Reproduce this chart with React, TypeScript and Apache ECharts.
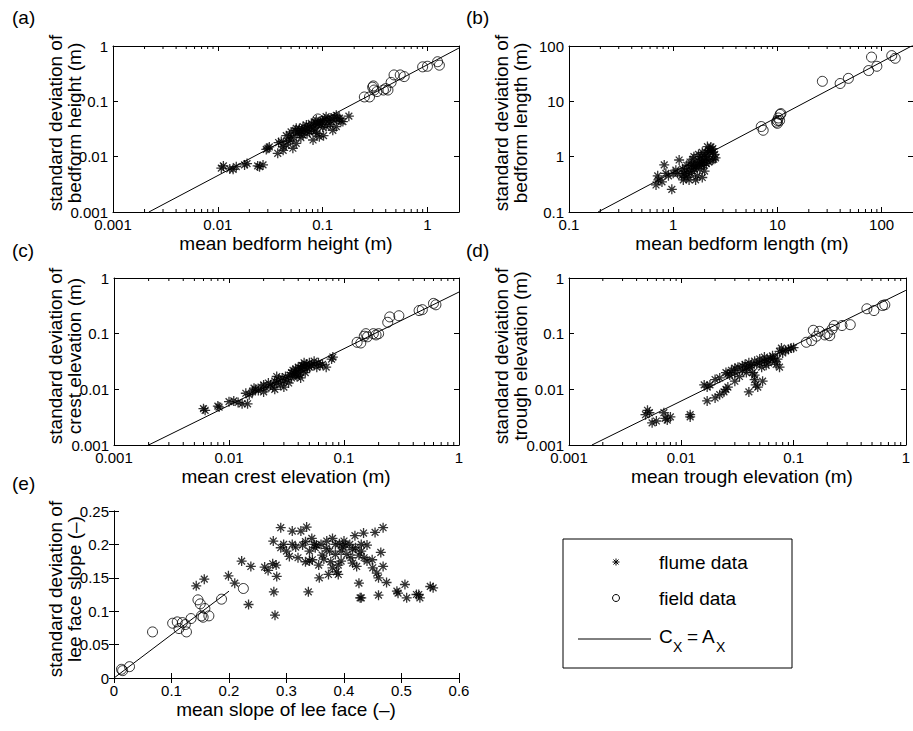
import React, { useEffect, useRef } from "react";
import * as echarts from "echarts";

const FONT = "'Liberation Sans', Arial, Helvetica, sans-serif";

// ---------- data ----------
const flumeA: number[][] = [
  [0.0108, 0.0062], [0.0113, 0.0068], [0.013, 0.006], [0.014, 0.0059], [0.015, 0.0066], [0.018, 0.0071], [0.019, 0.0075],
  [0.024, 0.0068], [0.025, 0.0066], [0.027, 0.0071], [0.029, 0.0135], [0.03, 0.0142], [0.031, 0.015], [0.0373, 0.0115],
  [0.038, 0.018], [0.0403, 0.0188], [0.0418, 0.0152], [0.042, 0.013], [0.045, 0.0163], [0.045, 0.024], [0.0484, 0.0246],
  [0.049, 0.0199], [0.05, 0.028], [0.052, 0.0142], [0.055, 0.03], [0.056, 0.0325], [0.056, 0.0174], [0.06, 0.0265],
  [0.06, 0.032], [0.062, 0.022], [0.065, 0.0246], [0.065, 0.035], [0.068, 0.03], [0.07, 0.0373], [0.072, 0.033],
  [0.075, 0.028], [0.078, 0.03], [0.078, 0.04], [0.081, 0.02], [0.083, 0.036], [0.085, 0.042], [0.087, 0.046],
  [0.088, 0.026], [0.09, 0.038], [0.093, 0.023], [0.093, 0.04], [0.096, 0.044], [0.1, 0.045], [0.1, 0.034],
  [0.102, 0.024], [0.105, 0.048], [0.108, 0.0528], [0.108, 0.035], [0.112, 0.042], [0.116, 0.046], [0.12, 0.05],
  [0.125, 0.03], [0.128, 0.045], [0.135, 0.056], [0.135, 0.035], [0.14, 0.048], [0.145, 0.0495], [0.15, 0.044],
  [0.156, 0.043], [0.178, 0.054], [0.058, 0.027], [0.067, 0.031], [0.074, 0.036], [0.082, 0.033], [0.097, 0.038],
  [0.053, 0.022], [0.047, 0.019], [0.063, 0.029], [0.071, 0.026], [0.086, 0.029], [0.118, 0.038], [0.13, 0.052],
];
const fieldA: number[][] = [
  [0.09, 0.048], [0.25, 0.12], [0.28, 0.12], [0.3, 0.18], [0.305, 0.19], [0.31, 0.16], [0.33, 0.15], [0.38, 0.16],
  [0.4, 0.17], [0.42, 0.16], [0.45, 0.22], [0.48, 0.3], [0.55, 0.3], [0.6, 0.28], [0.9, 0.42], [1.0, 0.43],
  [1.25, 0.52], [1.3, 0.45],
];
const fitA: number[][] = [[0.0022, 0.001], [2, 0.92]];

const flumeB: number[][] = [
  [0.684, 0.308], [0.71, 0.45], [0.72, 0.38], [0.78, 0.35], [0.82, 0.71], [0.85, 0.5], [0.9, 0.45], [0.97, 0.257],
  [1.0, 0.5], [1.06, 0.57], [1.1, 0.5], [1.14, 0.87], [1.2, 0.45], [1.23, 0.6], [1.25, 0.38], [1.3, 0.55],
  [1.33, 0.42], [1.35, 0.7], [1.4, 0.6], [1.42, 0.38], [1.45, 0.8], [1.5, 0.7], [1.5, 0.55], [1.55, 0.9],
  [1.58, 1.0], [1.6, 0.6], [1.64, 0.66], [1.64, 0.38], [1.7, 0.75], [1.7, 0.45], [1.75, 1.1], [1.8, 0.9],
  [1.8, 0.6], [1.85, 1.0], [1.9, 0.8], [1.9, 1.2], [1.9, 0.42], [1.95, 0.7], [2.0, 1.0], [2.0, 0.55],
  [2.05, 1.2], [2.1, 0.9], [2.13, 1.52], [2.2, 1.3], [2.2, 0.8], [2.3, 1.3], [2.3, 1.5], [2.37, 0.87],
  [2.4, 1.2], [2.45, 0.9], [2.5, 1.1], [2.55, 0.95], [1.28, 0.5], [1.38, 0.48], [1.48, 0.5], [1.58, 0.65],
  [1.68, 0.7], [1.78, 0.8], [1.88, 0.7], [1.98, 0.85], [2.08, 0.75], [2.15, 1.0], [2.25, 1.25], [2.4, 1.4],
];
const fieldB: number[][] = [
  [7.0, 3.5], [7.3, 3.0], [9.8, 4.2], [10, 4.5], [10, 4.0], [10.2, 5.0], [10.5, 4.5], [10.6, 5.8], [10.8, 6.0],
  [27, 23], [40, 21], [48, 26], [75, 36], [80, 63], [90, 43], [125, 67], [135, 60],
];
const fitB: number[][] = [[0.19, 0.1], [200, 103]];

const flumeC: number[][] = [
  [0.006, 0.0045], [0.0062, 0.0042], [0.008, 0.005], [0.0082, 0.0048], [0.01, 0.006], [0.011, 0.0062],
  [0.012, 0.0058], [0.013, 0.0055], [0.014, 0.0085], [0.0145, 0.0055], [0.015, 0.008], [0.016, 0.009],
  [0.0165, 0.0105], [0.017, 0.01], [0.018, 0.0095], [0.019, 0.011], [0.02, 0.012], [0.02, 0.009],
  [0.021, 0.0105], [0.022, 0.013], [0.023, 0.012], [0.024, 0.011], [0.025, 0.014], [0.025, 0.01],
  [0.026, 0.013], [0.026, 0.017], [0.027, 0.015], [0.028, 0.012], [0.029, 0.016], [0.03, 0.014],
  [0.03, 0.011], [0.031, 0.017], [0.032, 0.015], [0.033, 0.013], [0.034, 0.018], [0.035, 0.02],
  [0.035, 0.016], [0.036, 0.022], [0.037, 0.019], [0.038, 0.023], [0.038, 0.018], [0.039, 0.017],
  [0.04, 0.025], [0.04, 0.021], [0.041, 0.018], [0.042, 0.024], [0.042, 0.016], [0.043, 0.027],
  [0.044, 0.022], [0.045, 0.026], [0.045, 0.03], [0.046, 0.02], [0.047, 0.028], [0.048, 0.024],
  [0.05, 0.03], [0.05, 0.025], [0.052, 0.027], [0.055, 0.032], [0.055, 0.028], [0.058, 0.025],
  [0.06, 0.03], [0.062, 0.027], [0.065, 0.028], [0.07, 0.025], [0.078, 0.035], [0.08, 0.038],
];
const fieldC: number[][] = [
  [0.13, 0.07], [0.14, 0.068], [0.15, 0.09], [0.155, 0.1], [0.16, 0.088], [0.18, 0.1], [0.19, 0.095],
  [0.2, 0.1], [0.24, 0.16], [0.25, 0.2], [0.3, 0.21], [0.45, 0.26], [0.48, 0.27], [0.6, 0.35], [0.63, 0.33],
];
const fitC: number[][] = [[0.002, 0.001], [1, 0.56]];

const flumeD: number[][] = [
  [0.0048, 0.0035], [0.005, 0.0042], [0.0052, 0.0038], [0.0055, 0.0025], [0.006, 0.0027], [0.007, 0.0038],
  [0.0072, 0.003], [0.0075, 0.0028], [0.008, 0.0032], [0.012, 0.0035], [0.012, 0.0032], [0.016, 0.012],
  [0.017, 0.011], [0.018, 0.012], [0.017, 0.0062], [0.02, 0.007], [0.022, 0.008], [0.024, 0.009],
  [0.025, 0.01], [0.026, 0.011], [0.02, 0.015], [0.022, 0.016], [0.025, 0.02], [0.026, 0.019],
  [0.027, 0.018], [0.028, 0.022], [0.03, 0.02], [0.03, 0.014], [0.03, 0.024], [0.032, 0.025],
  [0.033, 0.017], [0.035, 0.026], [0.035, 0.022], [0.037, 0.028], [0.038, 0.024], [0.038, 0.02],
  [0.04, 0.03], [0.04, 0.009], [0.041, 0.025], [0.042, 0.027], [0.043, 0.02], [0.045, 0.032],
  [0.045, 0.015], [0.045, 0.018], [0.046, 0.012], [0.047, 0.028], [0.048, 0.011], [0.05, 0.035],
  [0.05, 0.03], [0.052, 0.025], [0.053, 0.014], [0.055, 0.038], [0.055, 0.032], [0.057, 0.027],
  [0.058, 0.034], [0.06, 0.03], [0.062, 0.036], [0.065, 0.04], [0.066, 0.036], [0.068, 0.032],
  [0.07, 0.028], [0.072, 0.035], [0.075, 0.048], [0.075, 0.025], [0.078, 0.055], [0.08, 0.045],
  [0.085, 0.05], [0.09, 0.052], [0.095, 0.055], [0.1, 0.056],
];
const fieldD: number[][] = [
  [0.13, 0.07], [0.145, 0.075], [0.15, 0.115], [0.16, 0.09], [0.17, 0.11], [0.19, 0.095], [0.2, 0.1],
  [0.21, 0.092], [0.22, 0.12], [0.23, 0.14], [0.27, 0.14], [0.32, 0.145], [0.45, 0.28], [0.52, 0.26],
  [0.62, 0.32], [0.65, 0.33],
];
const fitD: number[][] = [[0.0016, 0.001], [1, 0.6]];

const flumeE: number[][] = [
  [0.143, 0.138], [0.157, 0.148], [0.199, 0.153], [0.21, 0.142], [0.222, 0.175], [0.238, 0.167], [0.234, 0.11],
  [0.28, 0.094], [0.278, 0.129], [0.262, 0.166], [0.268, 0.161], [0.276, 0.171], [0.282, 0.169], [0.283, 0.152],
  [0.277, 0.205], [0.29, 0.195], [0.29, 0.225], [0.305, 0.182], [0.31, 0.22], [0.325, 0.22], [0.335, 0.226],
  [0.338, 0.129], [0.357, 0.15], [0.373, 0.155], [0.39, 0.155], [0.426, 0.142], [0.428, 0.12], [0.46, 0.124],
  [0.419, 0.213], [0.434, 0.217], [0.454, 0.218], [0.468, 0.225], [0.44, 0.199], [0.464, 0.188], [0.449, 0.177],
  [0.468, 0.167], [0.457, 0.157], [0.474, 0.143], [0.492, 0.13], [0.506, 0.14], [0.509, 0.12], [0.526, 0.125],
  [0.532, 0.12], [0.55, 0.137], [0.555, 0.135], [0.494, 0.127], [0.344, 0.209], [0.352, 0.199], [0.369, 0.194],
  [0.38, 0.209], [0.392, 0.201], [0.403, 0.199], [0.415, 0.192], [0.426, 0.184], [0.362, 0.184], [0.345, 0.177],
  [0.356, 0.169], [0.377, 0.174], [0.39, 0.169], [0.387, 0.159], [0.415, 0.172], [0.422, 0.167], [0.333, 0.174],
  [0.328, 0.199], [0.316, 0.196], [0.333, 0.204], [0.295, 0.2], [0.3, 0.19], [0.35, 0.195], [0.36, 0.2],
  [0.37, 0.205], [0.375, 0.19], [0.385, 0.185], [0.395, 0.19], [0.4, 0.205], [0.41, 0.2], [0.405, 0.185],
  [0.42, 0.195], [0.43, 0.19], [0.435, 0.18], [0.44, 0.175], [0.395, 0.175], [0.385, 0.2], [0.365, 0.178],
  [0.34, 0.19], [0.32, 0.18], [0.348, 0.2], [0.398, 0.196], [0.412, 0.18], [0.43, 0.2], [0.45, 0.165],
  [0.46, 0.15], [0.34, 0.175], [0.38, 0.165], [0.43, 0.12], [0.53, 0.125], [0.31, 0.2],
];
const fieldE: number[][] = [
  [0.013, 0.013], [0.015, 0.011], [0.027, 0.017], [0.067, 0.069], [0.102, 0.082], [0.11, 0.084], [0.113, 0.074],
  [0.119, 0.083], [0.124, 0.08], [0.126, 0.069], [0.134, 0.089], [0.146, 0.117], [0.15, 0.111], [0.152, 0.093],
  [0.155, 0.091], [0.158, 0.104], [0.165, 0.093], [0.187, 0.118], [0.225, 0.134],
];
const fitE: number[][] = [[0, 0], [0.2, 0.13]];

// minor tick values on log x axes
const minorTicksA = [0.002, 0.003, 0.004, 0.005, 0.006, 0.007, 0.008, 0.009, 0.02, 0.03, 0.04, 0.05, 0.06, 0.07, 0.08, 0.09, 0.2, 0.3, 0.4, 0.5, 0.6, 0.7, 0.8, 0.9];
const minorTicksB = [0.2, 0.3, 0.4, 0.5, 0.6, 0.7, 0.8, 0.9, 2, 3, 4, 5, 6, 7, 8, 9, 20, 30, 40, 50, 60, 70, 80, 90];
const minorTicksCD = [0.002, 0.003, 0.004, 0.005, 0.006, 0.007, 0.008, 0.009, 0.02, 0.03, 0.04, 0.05, 0.06, 0.07, 0.08, 0.09, 0.2, 0.3, 0.4, 0.5, 0.6, 0.7, 0.8, 0.9];

const panelLetters = ["(a)", "(b)", "(c)", "(d)", "(e)"];
const xTitles = [
  "mean bedform height (m)",
  "mean bedform length (m)",
  "mean crest elevation (m)",
  "mean trough elevation (m)",
  "mean slope of lee face (–)",
];
const yTitles1 = [
  "standard deviation of",
  "standard deviation of",
  "standard deviation of",
  "standard deviation of",
  "standard deviation of",
];
const yTitles2 = [
  "bedform height (m)",
  "bedform length (m)",
  "crest elevation (m)",
  "trough elevation (m)",
  "lee face slope (–)",
];
const legendLabels = ["flume data", "field data"];

const ASTERISK = "path://M5 0L5 10M0 5L10 5M1.6 1.6L8.4 8.4M1.6 8.4L8.4 1.6";

export default function App() {
  const ref = useRef<HTMLDivElement>(null);

  useEffect(() => {
    if (!ref.current) return;
    const chart = echarts.init(ref.current, undefined, { renderer: "svg" });

    const grids = [
      { left: 113, top: 46, width: 346, height: 166 },
      { left: 569, top: 46, width: 346, height: 166 },
      { left: 114, top: 278, width: 345, height: 167 },
      { left: 569, top: 278, width: 345, height: 167 },
      { left: 114, top: 511, width: 345, height: 167 },
    ];

    const panels = [
      { xType: "log", xMin: 0.001, xMax: 2, yType: "log", yMin: 0.001, yMax: 1, flume: flumeA, field: fieldA, fit: fitA, minor: minorTicksA, hideMax: true },
      { xType: "log", xMin: 0.1, xMax: 200, yType: "log", yMin: 0.1, yMax: 100, flume: flumeB, field: fieldB, fit: fitB, minor: minorTicksB, hideMax: true },
      { xType: "log", xMin: 0.001, xMax: 1, yType: "log", yMin: 0.001, yMax: 1, flume: flumeC, field: fieldC, fit: fitC, minor: minorTicksCD, hideMax: false },
      { xType: "log", xMin: 0.001, xMax: 1, yType: "log", yMin: 0.001, yMax: 1, flume: flumeD, field: fieldD, fit: fitD, minor: minorTicksCD, hideMax: false },
      { xType: "value", xMin: 0, xMax: 0.6, yType: "value", yMin: 0, yMax: 0.25, flume: flumeE, field: fieldE, fit: fitE, minor: null as number[] | null, hideMax: false, xInt: 0.1, yInt: 0.05 },
    ];

    const fmt = (v: number) => String(parseFloat(Number(v).toPrecision(6)));
    const line = { show: true, lineStyle: { color: "#000", width: 1 } };
    const tick = { show: true, inside: true, length: 5, lineStyle: { color: "#000", width: 1 } };
    const lbl = { color: "#000", fontSize: 15, fontFamily: FONT, formatter: fmt };

    const xAxis: any[] = [];
    const yAxis: any[] = [];
    const series: any[] = [];

    panels.forEach((p: any, i) => {
      const baseX: any = { type: p.xType, gridIndex: i, min: p.xMin, max: p.xMax, splitLine: { show: false }, axisLine: line, axisTick: tick };
      const baseY: any = { type: p.yType, gridIndex: i, min: p.yMin, max: p.yMax, splitLine: { show: false }, axisLine: line, axisTick: tick };
      if (p.xType === "log") { baseX.logBase = 10; }
      if (p.yType === "log") { baseY.logBase = 10; }
      if (p.xInt) baseX.interval = p.xInt;
      if (p.yInt) baseY.interval = p.yInt;
      xAxis.push({ ...baseX, position: "bottom", axisLabel: { ...lbl, margin: 5, showMaxLabel: !p.hideMax } });
      xAxis.push({ ...baseX, position: "top", axisLabel: { show: false } });
      yAxis.push({ ...baseY, position: "left", axisLabel: { ...lbl, margin: 5 } });
      yAxis.push({ ...baseY, position: "right", axisLabel: { show: false } });

      const xi = 2 * i;
      const yi = 2 * i;
      series.push({
        type: "line", xAxisIndex: xi, yAxisIndex: yi, data: p.fit, symbol: "none",
        lineStyle: { color: "#000", width: 1 }, silent: true, z: 2,
      });
      series.push({
        type: "scatter", name: "flume data", xAxisIndex: xi, yAxisIndex: yi, data: p.flume,
        symbol: ASTERISK, symbolSize: 10,
        itemStyle: { color: "transparent", borderColor: "#000", borderWidth: 1.3 }, z: 3,
      });
      series.push({
        type: "scatter", name: "field data", xAxisIndex: xi, yAxisIndex: yi, data: p.field,
        symbol: "circle", symbolSize: 10,
        itemStyle: { color: "transparent", borderColor: "#000", borderWidth: 1 }, z: 3,
      });
      if (p.minor) {
        const yMin = p.yMin, yMax = p.yMax;
        series.push({
          type: "custom", xAxisIndex: xi, yAxisIndex: yi, silent: true, clip: false,
          data: p.minor.map((v: number) => [v, yMin]),
          renderItem: (_params: any, api: any) => {
            const v = api.value(0);
            const b = api.coord([v, yMin]);
            const t = api.coord([v, yMax]);
            return {
              type: "group",
              children: [
                { type: "line", shape: { x1: b[0], y1: b[1], x2: b[0], y2: b[1] - 3 }, style: { stroke: "#000", lineWidth: 1 } },
                { type: "line", shape: { x1: t[0], y1: t[1], x2: t[0], y2: t[1] + 3 }, style: { stroke: "#000", lineWidth: 1 } },
              ],
            };
          },
        });
      }
    });

    const letterPos = [[12, 17], [466, 17], [12, 250], [466, 250], [12, 483]];
    const xTitlePos = [[286, 243], [742, 243], [286, 476], [742, 476], [286, 709]];
    const yTitlePos = [[55, 74, 123], [501, 520, 123], [55, 74, 356], [501, 520, 356], [55, 74, 589]];

    const graphic: any[] = [];
    panelLetters.forEach((t, i) => {
      graphic.push({ type: "text", x: letterPos[i][0], y: letterPos[i][1], style: { text: t, font: `19px ${FONT}`, fill: "#000", align: "left", verticalAlign: "middle" } });
    });
    xTitles.forEach((t, i) => {
      graphic.push({ type: "text", x: xTitlePos[i][0], y: xTitlePos[i][1], style: { text: t, font: `19px ${FONT}`, fill: "#000", align: "center", verticalAlign: "middle" } });
    });
    yTitles1.forEach((t, i) => {
      const [x1, x2, y] = yTitlePos[i];
      graphic.push({ type: "text", x: x1, y, rotation: Math.PI / 2, style: { text: t, font: `19px ${FONT}`, fill: "#000", align: "center", verticalAlign: "middle" } });
      graphic.push({ type: "text", x: x2, y, rotation: Math.PI / 2, style: { text: yTitles2[i], font: `19px ${FONT}`, fill: "#000", align: "center", verticalAlign: "middle" } });
    });

    // legend box
    graphic.push({ type: "rect", shape: { x: 563, y: 539, width: 229, height: 129 }, style: { fill: "#fff", stroke: "#000", lineWidth: 1 } });
    const ax = 616, ay = 562, r = 3.5, d = 2.5;
    graphic.push({
      type: "group",
      children: [
        { type: "line", shape: { x1: ax - r, y1: ay, x2: ax + r, y2: ay }, style: { stroke: "#000", lineWidth: 1 } },
        { type: "line", shape: { x1: ax, y1: ay - r, x2: ax, y2: ay + r }, style: { stroke: "#000", lineWidth: 1 } },
        { type: "line", shape: { x1: ax - d, y1: ay - d, x2: ax + d, y2: ay + d }, style: { stroke: "#000", lineWidth: 1 } },
        { type: "line", shape: { x1: ax - d, y1: ay + d, x2: ax + d, y2: ay - d }, style: { stroke: "#000", lineWidth: 1 } },
      ],
    });
    graphic.push({ type: "circle", shape: { cx: 616, cy: 598, r: 3.5 }, style: { fill: "none", stroke: "#000", lineWidth: 1 } });
    graphic.push({ type: "line", shape: { x1: 578, y1: 639, x2: 651, y2: 639 }, style: { stroke: "#000", lineWidth: 1 } });
    graphic.push({ type: "text", x: 659, y: 562, style: { text: legendLabels[0], font: `19px ${FONT}`, fill: "#000", verticalAlign: "middle" } });
    graphic.push({ type: "text", x: 659, y: 598, style: { text: legendLabels[1], font: `19px ${FONT}`, fill: "#000", verticalAlign: "middle" } });
    graphic.push({ type: "text", x: 659, y: 636, style: { text: "C", font: `19px ${FONT}`, fill: "#000", verticalAlign: "middle" } });
    graphic.push({ type: "text", x: 673, y: 647, style: { text: "X", font: `14px ${FONT}`, fill: "#000", verticalAlign: "middle" } });
    graphic.push({ type: "text", x: 687, y: 636, style: { text: "=", font: `19px ${FONT}`, fill: "#000", verticalAlign: "middle" } });
    graphic.push({ type: "text", x: 702, y: 636, style: { text: "A", font: `19px ${FONT}`, fill: "#000", verticalAlign: "middle" } });
    graphic.push({ type: "text", x: 716, y: 647, style: { text: "X", font: `14px ${FONT}`, fill: "#000", verticalAlign: "middle" } });

    chart.setOption({
      animation: false,
      backgroundColor: "#fff",
      textStyle: { fontFamily: FONT },
      grid: grids,
      xAxis,
      yAxis,
      series,
      graphic,
    });

    return () => chart.dispose();
  }, []);

  return <div ref={ref} style={{ position: "absolute", left: 0, top: 0, width: 913, height: 731 }} />;
}
